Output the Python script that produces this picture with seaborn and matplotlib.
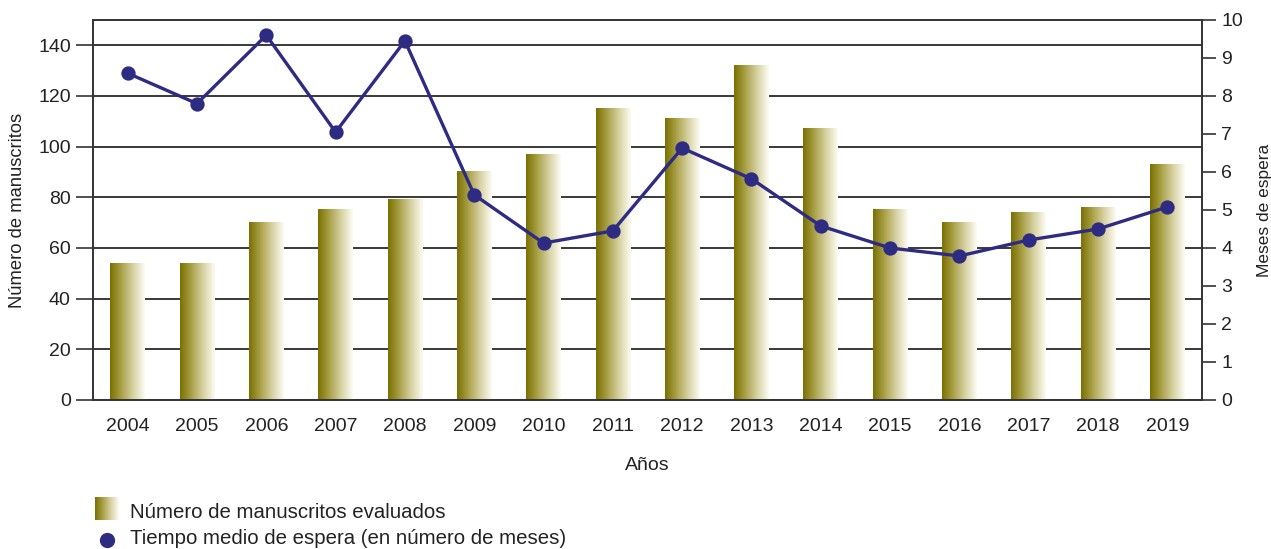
import numpy as np
import pandas as pd
import matplotlib
matplotlib.use("Agg")
import matplotlib.pyplot as plt
import seaborn as sns
from matplotlib.colors import LinearSegmentedColormap
from matplotlib.lines import Line2D

years = ["2004", "2005", "2006", "2007", "2008", "2009", "2010", "2011",
         "2012", "2013", "2014", "2015", "2016", "2017", "2018", "2019"]
manuscritos = [54, 54, 70, 75, 79, 90, 97, 115, 111, 132, 107, 75, 70, 74, 76, 93]
meses = [8.6, 7.8, 9.6, 7.05, 9.45, 5.4, 4.13, 4.45, 6.63, 5.82, 4.58, 4.0, 3.79, 4.21, 4.5, 5.08]

label_bar = "Número de manuscritos evaluados"
label_line = "Tiempo medio de espera (en número de meses)"

df = pd.DataFrame({"year": years, "manuscritos": manuscritos, "meses": meses})

sns.set_theme(style="white")
plt.rcParams["font.family"] = ["Liberation Sans", "DejaVu Sans"]

W, H = 1271, 549
fig = plt.figure(figsize=(W / 100, H / 100), dpi=100)
ax = fig.add_axes([93 / W, 1 - 400 / H, (1202 - 93) / W, 380 / H])

grad_cmap = LinearSegmentedColormap.from_list(
    "olive", ["#7a7000", "#aaa24a", "#d8d2a4", "#fdfcf4"])
grad = np.linspace(0, 1, 256).reshape(1, -1)

sns.barplot(data=df, x="year", y="manuscritos", ax=ax, width=0.5,
            color="#b3ab55", saturation=1, zorder=2)
for p in ax.patches:
    x0, y0, w, h = p.get_x(), p.get_y(), p.get_width(), p.get_height()
    p.set_facecolor("none")
    p.set_edgecolor("none")
    ax.imshow(grad, cmap=grad_cmap, extent=[x0, x0 + w, y0, y0 + h],
              aspect="auto", zorder=2, interpolation="bilinear")

ax.set_xlim(-0.5, len(years) - 0.5)
ax.set_ylim(0, 150)
ax.set_yticks(range(0, 141, 20))
ax.grid(axis="y", color="#2a2a2a", linewidth=1.3, zorder=1)
ax.set_axisbelow(True)
for s in ax.spines.values():
    s.set_color("#333333")
    s.set_linewidth(1.2)

ax.set_xticks(range(len(years)))
ax.set_xticklabels(years)
ax.set_xticks(np.arange(-0.5, len(years), 1.0), minor=True)
ax.tick_params(axis="x", which="major", length=0, pad=13, labelsize=14, colors="#222222")
ax.tick_params(axis="x", which="minor", length=13, width=1.2, color="#333333", direction="out")
ax.tick_params(axis="y", which="major", length=12, width=1.2, color="#333333",
               labelsize=14, labelcolor="#222222", left=True, pad=4)
ax.set_xlabel("Años", fontsize=14, color="#222222", labelpad=16)
ax.set_ylabel("Número de manuscritos", fontsize=13.2, color="#222222", labelpad=9)

ax2 = ax.twinx()
sns.pointplot(data=df, x="year", y="meses", ax=ax2, color="#2e2c82",
              markers="o", markersize=8.5, linewidth=2.4, zorder=5)
ax2.set_xlim(-0.5, len(years) - 0.5)
ax2.set_ylim(0, 10)
ax2.set_yticks(range(0, 11))
ax2.tick_params(axis="y", which="major", length=10, width=1.2, color="#333333",
                labelsize=14, labelcolor="#222222", right=True, pad=4)
ax2.set_ylabel("Meses de espera", fontsize=12.5, color="#222222", rotation=90, labelpad=10)
ax2.yaxis.set_label_position("right")
ax2.set_xlabel("")
ax2.grid(False)
for s in ax2.spines.values():
    s.set_color("#333333")
    s.set_linewidth(1.2)

# Legend (manual)
lax = fig.add_axes([95 / W, 1 - 520 / H, 23 / W, 23 / H])
lax.imshow(grad, cmap=grad_cmap, aspect="auto", interpolation="bilinear")
lax.set_axis_off()
fig.text(130 / W, 1 - 512 / H, label_bar, fontsize=14.7, va="center", ha="left", color="#222222")
fig.add_artist(Line2D([107 / W], [1 - 540 / H], marker="o", markersize=10,
                      color="#2e2c82", transform=fig.transFigure))
fig.text(130 / W, 1 - 539 / H, label_line, fontsize=14.7, va="center", ha="left", color="#222222")

fig.savefig("out.png", dpi=100)
